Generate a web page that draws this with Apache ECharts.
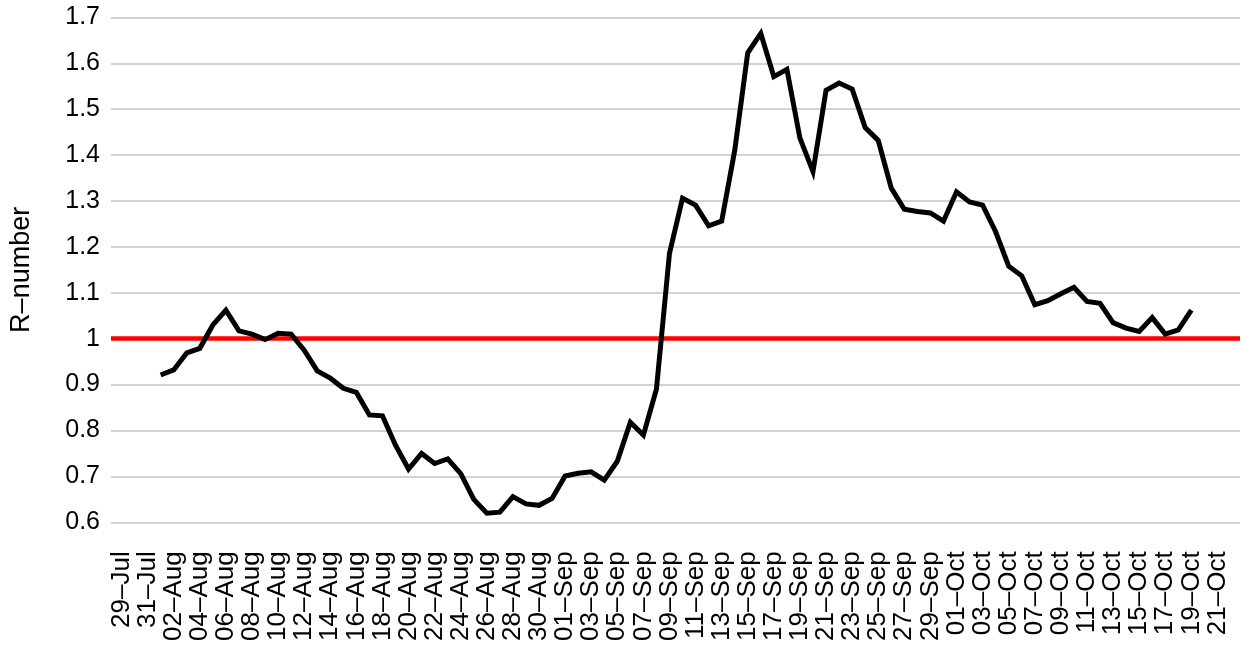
<!DOCTYPE html>
<html>
<head>
<meta charset="utf-8">
<script src="https://cdn.jsdelivr.net/npm/echarts@6/dist/echarts.min.js"></script>
<style>
html, body { margin: 0; padding: 0; background: #fff; }
#chart { width: 1241px; height: 647px; }
</style>
</head>
<body>
<div id="chart"></div>
<script>
// days on the x axis, 29 Jul to 22 Oct
var days = [
  '29–Jul', '30–Jul', '31–Jul',
  '01–Aug', '02–Aug', '03–Aug', '04–Aug', '05–Aug', '06–Aug', '07–Aug', '08–Aug', '09–Aug', '10–Aug',
  '11–Aug', '12–Aug', '13–Aug', '14–Aug', '15–Aug', '16–Aug', '17–Aug', '18–Aug', '19–Aug', '20–Aug',
  '21–Aug', '22–Aug', '23–Aug', '24–Aug', '25–Aug', '26–Aug', '27–Aug', '28–Aug', '29–Aug', '30–Aug', '31–Aug',
  '01–Sep', '02–Sep', '03–Sep', '04–Sep', '05–Sep', '06–Sep', '07–Sep', '08–Sep', '09–Sep', '10–Sep',
  '11–Sep', '12–Sep', '13–Sep', '14–Sep', '15–Sep', '16–Sep', '17–Sep', '18–Sep', '19–Sep', '20–Sep',
  '21–Sep', '22–Sep', '23–Sep', '24–Sep', '25–Sep', '26–Sep', '27–Sep', '28–Sep', '29–Sep', '30–Sep',
  '01–Oct', '02–Oct', '03–Oct', '04–Oct', '05–Oct', '06–Oct', '07–Oct', '08–Oct', '09–Oct', '10–Oct',
  '11–Oct', '12–Oct', '13–Oct', '14–Oct', '15–Oct', '16–Oct', '17–Oct', '18–Oct', '19–Oct', '20–Oct',
  '21–Oct', '22–Oct'
];

// R-number, one value per day (no estimate for the first and last days)
var rJul = [null, null, null];
var rAug = [0.921, 0.932, 0.969, 0.979, 1.030, 1.062, 1.017, 1.010, 0.998, 1.012,
            1.010, 0.975, 0.930, 0.914, 0.892, 0.883, 0.834, 0.832, 0.768, 0.716,
            0.750, 0.728, 0.738, 0.706, 0.650, 0.620, 0.622, 0.656, 0.640, 0.637, 0.652];
var rSep = [0.701, 0.707, 0.710, 0.692, 0.733, 0.818, 0.790, 0.890, 1.186, 1.306,
            1.291, 1.246, 1.256, 1.410, 1.623, 1.665, 1.571, 1.587, 1.437, 1.364,
            1.541, 1.557, 1.544, 1.460, 1.432, 1.328, 1.282, 1.277, 1.274, 1.256];
var rOct = [1.320, 1.298, 1.291, 1.233, 1.158, 1.137, 1.074, 1.083, 1.098, 1.112,
            1.081, 1.077, 1.035, 1.023, 1.016, 1.046, 1.010, 1.019, 1.062, null,
            null, null];
var rNumber = rJul.concat(rAug, rSep, rOct);

var threshold = 1;
var yTicks = [0.6, 0.7, 0.8, 0.9, 1, 1.1, 1.2, 1.3, 1.4, 1.5, 1.6, 1.7];

var font = 'Helvetica, Arial, "Liberation Sans", sans-serif';
var chart = echarts.init(document.getElementById('chart'));

chart.setOption({
  animation: false,
  textStyle: { fontFamily: font },
  grid: [
    // frame with the gridlines
    { left: 111, right: 1, top: 17.4, bottom: 124.7 },
    // the data itself, slightly inset like the original
    { left: 115, right: 4, top: 17.4, bottom: 124.7 }
  ],
  xAxis: [
    { gridIndex: 0, type: 'value', min: 0, max: 1, show: false },
    {
      gridIndex: 1,
      type: 'category',
      data: days,
      boundaryGap: true,
      axisLine: { show: false },
      axisTick: { show: false },
      axisLabel: {
        interval: 1,
        rotate: 90,
        margin: 29,
        fontSize: 26,
        color: '#000',
        fontFamily: font
      }
    }
  ],
  yAxis: [
    {
      gridIndex: 0,
      type: 'value',
      min: yTicks[0],
      max: yTicks[yTicks.length - 1],
      interval: 0.1,
      name: 'R–number',
      nameLocation: 'middle',
      nameGap: 76,
      nameTextStyle: { fontSize: 27, color: '#000', fontFamily: font },
      axisLine: { show: false },
      axisTick: { show: false },
      axisLabel: {
        margin: 11,
        fontSize: 25,
        color: '#000',
        fontFamily: font,
        formatter: function (v) { return String(+v.toFixed(1)); }
      },
      splitLine: { lineStyle: { color: '#c4c4c4', width: 1.5 } }
    },
    {
      gridIndex: 1,
      type: 'value',
      min: yTicks[0],
      max: yTicks[yTicks.length - 1],
      show: false,
      splitLine: { show: false }
    }
  ],
  series: [
    {
      name: 'threshold',
      type: 'line',
      xAxisIndex: 0,
      yAxisIndex: 0,
      data: [],
      z: 1,
      markLine: {
        silent: true,
        symbol: 'none',
        label: { show: false },
        lineStyle: { color: '#ff0000', width: 4.5, type: 'solid' },
        data: [{ yAxis: threshold }]
      }
    },
    {
      name: 'R-number',
      type: 'line',
      xAxisIndex: 1,
      yAxisIndex: 1,
      data: rNumber,
      showSymbol: false,
      z: 5,
      lineStyle: { color: '#000', width: 5, join: 'miter', cap: 'butt' }
    }
  ]
});
</script>
</body>
</html>
